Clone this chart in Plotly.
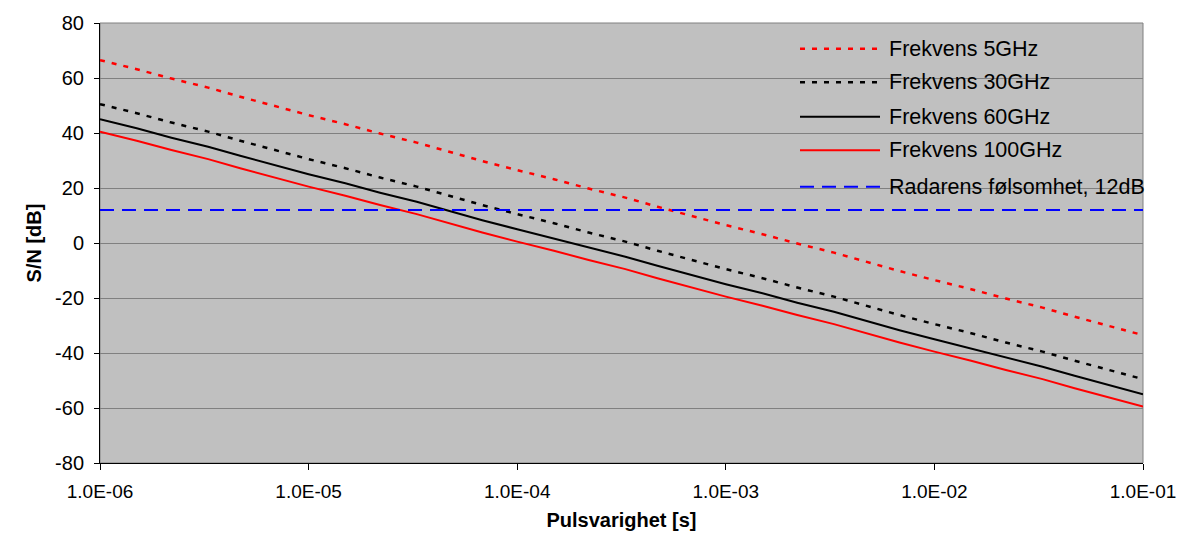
import plotly.graph_objects as go

# Pulse duration values (s), E6 steps per decade
pulse = [1.0e-6, 1.5e-6, 2.2e-6, 3.3e-6, 4.7e-6, 6.8e-6,
         1.0e-5, 1.5e-5, 2.2e-5, 3.3e-5, 4.7e-5, 6.8e-5,
         1.0e-4, 1.5e-4, 2.2e-4, 3.3e-4, 4.7e-4, 6.8e-4,
         1.0e-3, 1.5e-3, 2.2e-3, 3.3e-3, 4.7e-3, 6.8e-3,
         1.0e-2, 1.5e-2, 2.2e-2, 3.3e-2, 4.7e-2, 6.8e-2,
         1.0e-1]

sn_5ghz = [66.5, 63.2, 59.8, 56.5, 53.2, 49.8, 46.5, 43.2, 39.8, 36.5, 33.2, 29.8,
           26.5, 23.2, 19.8, 16.5, 13.2, 9.8, 6.5, 3.2, -0.2, -3.5, -6.8, -10.2,
           -13.5, -16.8, -20.2, -23.5, -26.8, -30.2, -33.5]
sn_30ghz = [50.5, 47.2, 43.8, 40.5, 37.2, 33.8, 30.5, 27.2, 23.8, 20.5, 17.2, 13.8,
            10.5, 7.2, 3.8, 0.5, -2.8, -6.2, -9.5, -12.8, -16.2, -19.5, -22.8, -26.2,
            -29.5, -32.8, -36.2, -39.5, -42.8, -46.2, -49.5]
sn_60ghz = [45.0, 41.7, 38.3, 35.0, 31.7, 28.3, 25.0, 21.7, 18.3, 15.0, 11.7, 8.3,
            5.0, 1.7, -1.7, -5.0, -8.3, -11.7, -15.0, -18.3, -21.7, -25.0, -28.3, -31.7,
            -35.0, -38.3, -41.7, -45.0, -48.3, -51.7, -55.0]
sn_100ghz = [40.5, 37.2, 33.8, 30.5, 27.2, 23.8, 20.5, 17.2, 13.8, 10.5, 7.2, 3.8,
             0.5, -2.8, -6.2, -9.5, -12.8, -16.2, -19.5, -22.8, -26.2, -29.5, -32.8, -36.2,
             -39.5, -42.8, -46.2, -49.5, -52.8, -56.2, -59.5]
radar = [12] * len(pulse)

names = ["Frekvens 5GHz", "Frekvens 30GHz", "Frekvens 60GHz", "Frekvens 100GHz",
         "Radarens følsomhet, 12dB"]
x_tickvals = [1e-6, 1e-5, 1e-4, 1e-3, 1e-2, 1e-1]
x_ticktext = ["1.0E-06", "1.0E-05", "1.0E-04", "1.0E-03", "1.0E-02", "1.0E-01"]
y_tickvals = [-80, -60, -40, -20, 0, 20, 40, 60, 80]
y_ticktext = ["-80", "-60", "-40", "-20", "0", "20", "40", "60", "80"]

series = [sn_5ghz, sn_30ghz, sn_60ghz, sn_100ghz, radar]
styles = [
    dict(color="#FF0000", width=2.5, dash="5px,7px"),
    dict(color="#000000", width=2.5, dash="5px,7px"),
    dict(color="#000000", width=2),
    dict(color="#FF0000", width=2),
    dict(color="#0000FF", width=2, dash="14px,8px"),
]

fig = go.Figure()
for nm, ys, st in zip(names, series, styles):
    fig.add_trace(go.Scatter(x=pulse, y=ys, mode="lines", name=nm, line=st,
                             showlegend=False))

font_main = "Liberation Sans, Arial, sans-serif"
L, R, T, B = 100, 52, 17, 78
W, H = 1195, 541
pw, ph = W - L - R, H - T - B

fig.update_layout(
    width=W, height=H,
    margin=dict(l=L, r=R, t=T, b=B),
    paper_bgcolor="white",
    plot_bgcolor="#C0C0C0",
    font=dict(family=font_main, size=20, color="black"),
    showlegend=False,
    xaxis=dict(type="log", range=[-6, -1], tickvals=x_tickvals, ticktext=x_ticktext,
               showgrid=False, showline=True, linecolor="black", linewidth=1,
               ticks="outside", ticklen=6, tickcolor="black",
               tickfont=dict(size=19), ticklabelstandoff=5,
               title=dict(text="<b>Pulsvarighet [s]</b>", font=dict(size=20), standoff=12),
               zeroline=False),
    yaxis=dict(range=[-80, 80], tickvals=y_tickvals, ticktext=y_ticktext,
               showgrid=True, gridcolor="#808080", gridwidth=1,
               showline=True, linecolor="black", linewidth=1,
               ticks="outside", ticklen=5, tickcolor="black",
               tickfont=dict(size=20), ticklabelstandoff=6,
               title=dict(text="<b>S/N [dB]</b>", font=dict(size=20), standoff=8),
               zeroline=False),
)
fig.add_shape(type="rect", xref="paper", yref="paper", x0=0, y0=0, x1=1, y1=1,
              line=dict(color="#808080", width=1), layer="below")

# Manual legend (long line samples as in the reference)
row_px = [43, 77, 112, 146, 183]
for nm, st, py in zip(names, styles, row_px):
    yp = (H - B - py) / ph
    x0 = (800 - L) / pw
    x1 = (880 - L) / pw
    fig.add_shape(type="line", xref="paper", yref="paper", x0=x0, x1=x1, y0=yp, y1=yp,
                  line=st)
    fig.add_annotation(xref="paper", yref="paper", x=(887 - L) / pw, y=yp,
                       xanchor="left", yanchor="middle", text=nm, showarrow=False,
                       font=dict(size=21.5, family=font_main, color="black"))

fig.write_html("out.html")
